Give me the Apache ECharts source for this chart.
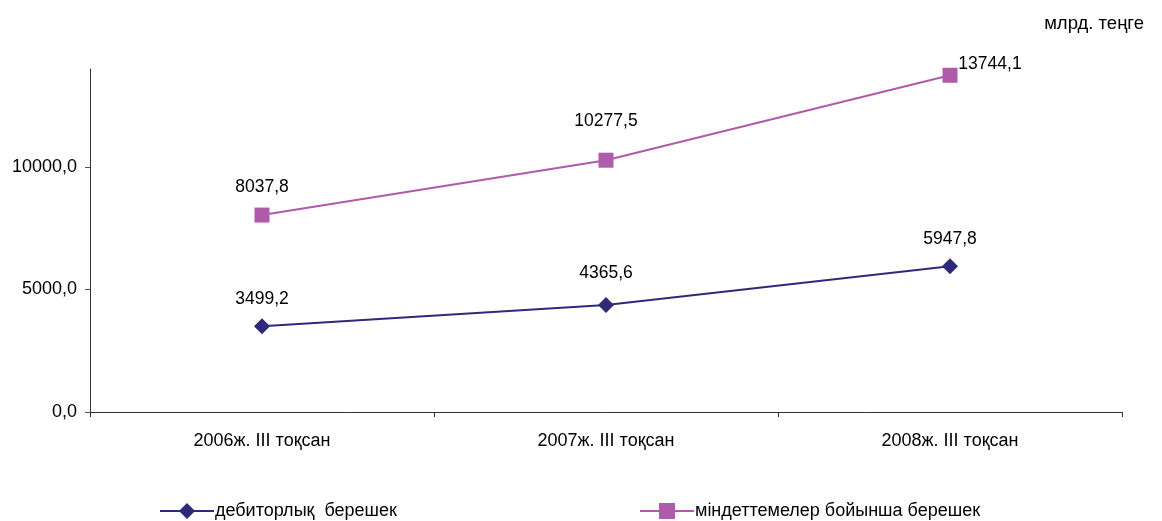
<!DOCTYPE html>
<html><head><meta charset="utf-8">
<script src="https://cdn.jsdelivr.net/npm/echarts@6/dist/echarts.min.js"></script>
<style>html,body{margin:0;padding:0;background:#fff}#c{width:1162px;height:521px}</style>
</head><body><div id="c"></div>
<script>
const categories = ['2006ж. III тоқсан', '2007ж. III тоқсан', '2008ж. III тоқсан'];
const seriesNames = ['дебиторлық  берешек', 'міндеттемелер бойынша берешек'];
const debtReceivable = [3499.2, 4365.6, 5947.8];
const debtLiabilities = [8037.8, 10277.5, 13744.1];
const yTicks = [0, 5000, 10000];

const offA = [[0, 0], [0, -5], [0, 0]];
const offB = [[0, -1], [0, -13], [40, 15]];
const fmt = v => v.toFixed(1).replace('.', ',');
const font = 'Liberation Sans, Arial, sans-serif';

function mk(vals, offs) {
  return vals.map((v, i) => ({ value: v, label: { offset: offs[i] } }));
}

const chart = echarts.init(document.getElementById('c'));
chart.setOption({
  animation: false,
  textStyle: { fontFamily: font },
  title: { text: 'млрд. теңге', right: 13, top: 9, textStyle: { fontSize: 18.5, fontWeight: 'normal', color: '#000', fontFamily: font } },
  grid: { left: 90, right: 40, top: 69, bottom: 109 },
  legend: [
    { left: 154, top: 497, itemWidth: 54, itemHeight: 20, data: [seriesNames[0]], textStyle: { fontSize: 18, color: '#000', padding: [0, 0, 0, -4] } },
    { left: 634, top: 497, itemWidth: 54, itemHeight: 20, data: [seriesNames[1]], textStyle: { fontSize: 18, color: '#000', padding: [0, 0, 0, -4] } }
  ],
  xAxis: {
    type: 'category', data: categories, boundaryGap: true,
    axisLine: { lineStyle: { color: '#333', width: 1 } },
    axisTick: { show: true, length: 5, lineStyle: { color: '#333' } },
    axisLabel: { color: '#000', fontSize: 18, margin: 20 }
  },
  yAxis: {
    type: 'value', min: 0, max: 14000, interval: 5000,
    splitLine: { show: false },
    axisLine: { show: true, lineStyle: { color: '#333' } },
    axisTick: { show: true, length: 5, lineStyle: { color: '#555' }, customValues: yTicks },
    axisLabel: { color: '#000', fontSize: 18, margin: 13, customValues: yTicks, formatter: v => fmt(v) }
  },
  series: [
    {
      name: seriesNames[0], type: 'line', data: mk(debtReceivable, offA),
      symbol: 'diamond', symbolSize: 16,
      lineStyle: { color: '#2F2A77', width: 2 }, itemStyle: { color: '#2F2A77' },
      label: { show: true, position: 'top', distance: 10, color: '#000', fontSize: 17.5, formatter: p => fmt(p.value) }
    },
    {
      name: seriesNames[1], type: 'line', data: mk(debtLiabilities, offB),
      symbol: 'rect', symbolSize: 15,
      lineStyle: { color: '#B05AAA', width: 2 }, itemStyle: { color: '#B05AAA' },
      label: { show: true, position: 'top', distance: 10, color: '#000', fontSize: 17.5, formatter: p => fmt(p.value) }
    }
  ]
});
</script></body></html>
